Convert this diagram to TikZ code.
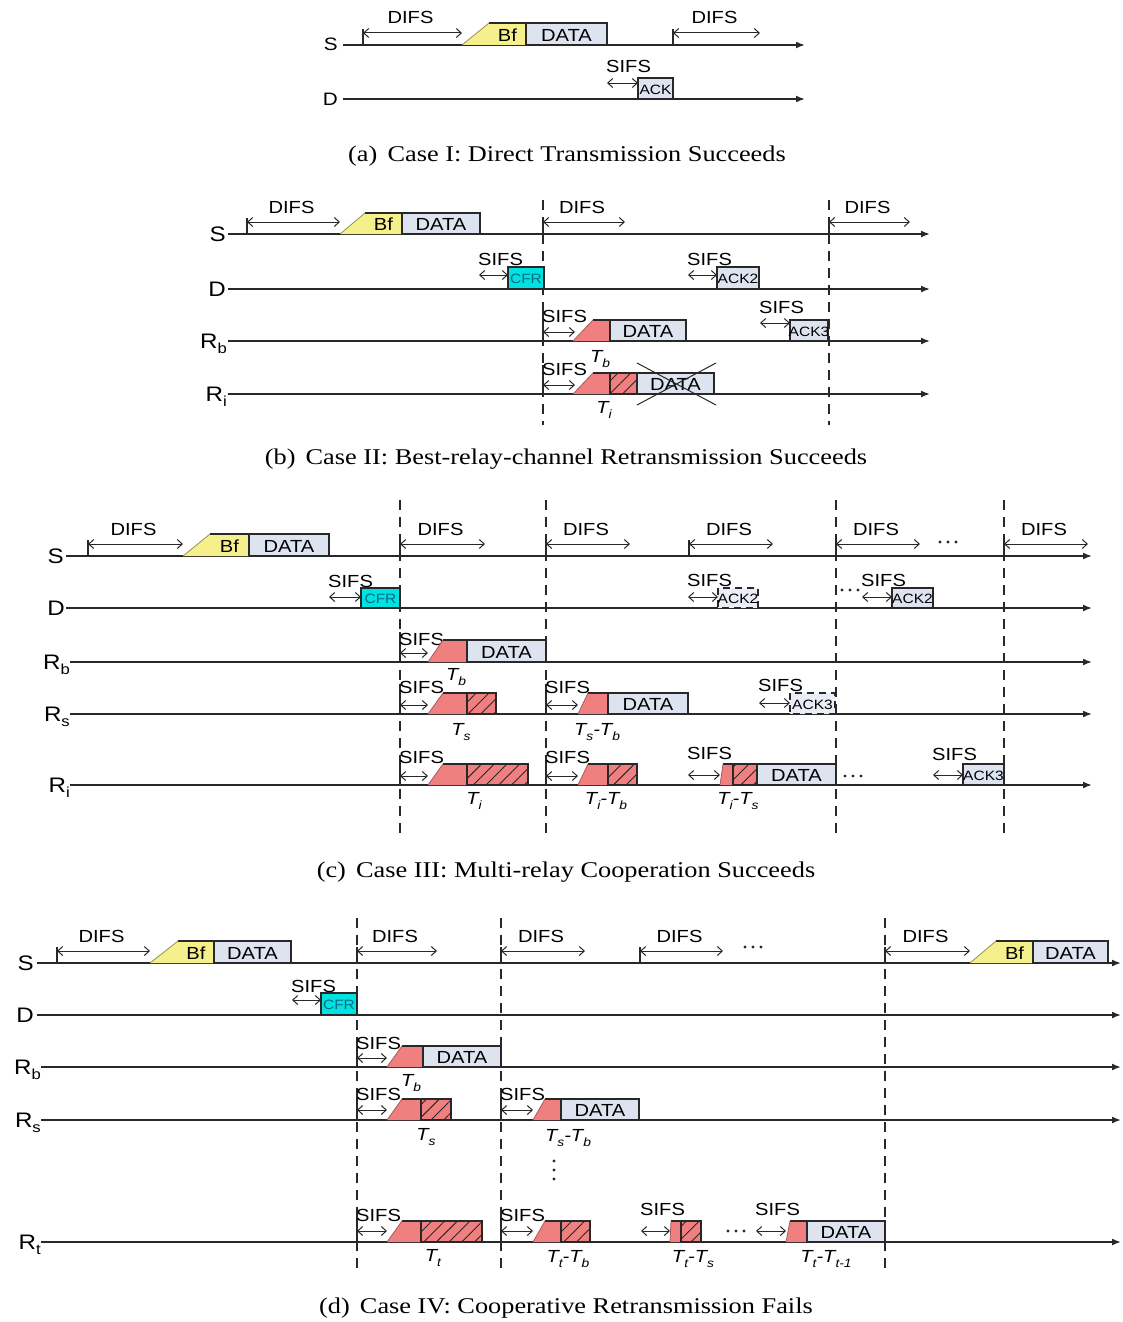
\documentclass[tikz,border=0pt]{standalone}
\usepackage{fontspec}
\setmainfont{Liberation Sans}[FakeStretch=1.15]
\newfontfamily\capfont{Liberation Serif}[FakeStretch=1.17]
\usetikzlibrary{arrows.meta,patterns.meta}
\definecolor{lc}{RGB}{40,40,40}
\definecolor{yel}{RGB}{246,240,140}
\definecolor{dat}{RGB}{222,227,240}
\definecolor{rd}{RGB}{240,128,128}
\definecolor{cy}{RGB}{0,225,225}
\definecolor{cft}{RGB}{0,110,130}
\newcounter{nid}
\tikzset{
 nm/.code={\stepcounter{nid}\pgfkeysalso{/tikz/name=n\arabic{nid}}},
 tline/.style={line width=1.7pt, draw=lc, -{Latex[length=9pt,width=7pt]}},
 vdash/.style={line width=1.4pt, draw=lc, dash pattern=on 10pt off 7pt},
 bx/.style={line width=1.1pt, draw=lc},
 dar/.style={line width=1pt, draw=lc, {Straight Barb[length=5pt,width=9pt]}-{Straight Barb[length=5pt,width=9pt]}},
 lbl/.style={nm, inner sep=0pt, font=\fontsize{17.5}{18}\selectfont},
 sml/.style={nm, inner sep=0pt, font=\fontsize{13.5}{14}\selectfont},
 row/.style={nm, inner sep=0pt, anchor=base east, font=\fontsize{21}{21}\selectfont},
 tlab/.style={nm, inner sep=0pt, font=\fontsize{17.5}{18}\selectfont\itshape},
 captext/.style={nm, inner sep=0pt, anchor=base, font=\capfont\fontsize{22.5}{24}\selectfont},
}
\newcommand\sbs[1]{\raisebox{-0.28em}{\fontsize{12}{12}\selectfont\itshape #1}}
\newcommand\rsb[1]{\raisebox{-0.25em}{\fontsize{14.5}{15}\selectfont #1}}
\newcommand\TL[3]{\draw[tline] (#2,#1) -- (#3,#1);}
\newcommand\VD[3]{\draw[vdash] (#1,#2) -- (#1,#3);}
\newcommand\TICK[3]{\draw[bx] (#1,#2) -- (#1,#3);}
\newcommand\DIFS[3]{\draw[bx] (#1,#3) -- (#1,#3-16);
 \draw[dar] (#1,#3-12) -- (#2,#3-12);
 \node[lbl,anchor=base] at ({(#1+#2)/2-2},#3-21) {DIFS};}
\newcommand\SIFS[4]{\draw[dar] (#1,#3) -- (#2,#3);
 \node[lbl,anchor=base west] at (#1-1,#4) {SIFS};}
\newcommand\BF[5]{\fill[yel] (#1,#5) -- (#2,#4) -- (#3,#4) -- (#3,#5) -- cycle;
 \draw[bx] (#2,#4) -- (#3,#4) -- (#3,#5);
 \draw[line width=0.8pt, yel!60!black] (#1,#5) -- (#2,#4);
 \node[lbl] at ({(#2+#3)/2},{(#4+#5)/2+1}) {Bf};}
\newcommand\PK[7]{\draw[bx,fill=#5] (#1,#3) rectangle (#2,#4);
 \node[#6] at ({(#1+#2)/2},{(#3+#4)/2+1}) {#7};}
\newcommand\DPK[5]{\fill[dat!60] (#1,#3) rectangle (#2,#4);
 \draw[bx,dash pattern=on 7pt off 5pt] (#1,#3) rectangle (#2,#4);
 \node[sml] at ({(#1+#2)/2},{(#3+#4)/2+1}) {#5};}
\newcommand\RT[5]{\fill[rd] (#1,#5) -- (#2,#4) -- (#3,#4) -- (#3,#5) -- cycle;
 \draw[bx] (#2,#4) -- (#3,#4) -- (#3,#5);
 \draw[line width=0.8pt, rd!70!black] (#1,#5) -- (#2,#4);}
\newcommand\HT[4]{\fill[rd] (#1,#3) rectangle (#2,#4);
 \fill[pattern={Lines[angle=45,distance=9pt,line width=0.9pt]}, pattern color=lc] (#1,#3) rectangle (#2,#4);
 \draw[bx] (#1,#3) rectangle (#2,#4);}
\newcommand\DOTS[2]{\foreach \k in {0,1,2}{\fill[lc] (#1+\k*8,#2) circle (1.7pt);}}
\begin{document}
\begin{tikzpicture}[x=1pt,y=-1pt]
\fill[white] (0,0) rectangle (1123,1322);
\useasboundingbox (0,0) rectangle (1123,1322);
%% ---------------- (a)
\node[row,font=\fontsize{18}{18}\selectfont] (aS) at (338,51) {S};
\node[row,font=\fontsize{18}{18}\selectfont] (aD) at (338,105) {D};
\TL{45}{343}{805}
\TL{99}{343}{805}
\DIFS{363}{462}{45}
\BF{462}{489}{526}{23}{45}
\PK{526}{607}{23}{45}{dat}{lbl}{DATA}
\DIFS{673}{760}{45}
\SIFS{607}{638}{83}{73}
\PK{638}{673}{78}{99}{dat}{sml}{ACK}
\node[captext] (capa) at (567,161) {(a)\hspace{0.45em}Case I: Direct Transmission Succeeds};
%% ---------------- (b)
\node[row] (bS) at (226,241) {S};
\node[row] (bD) at (226,296) {D};
\node[row] (bRb) at (227,348) {R\rsb{b}};
\node[row] (bRi) at (227,401) {R\rsb{i}};
\TL{234}{228}{930}
\TL{289}{228}{930}
\TL{341}{228}{930}
\TL{394}{228}{930}
\VD{543}{200}{425}
\VD{829}{200}{425}
\DIFS{247}{340}{234}
\BF{340}{365}{402}{213}{234}
\PK{402}{480}{213}{234}{dat}{lbl}{DATA}
\DIFS{543}{625}{234}
\DIFS{829}{910}{234}
\SIFS{479}{508}{275}{265}
\PK{508}{544}{267}{289}{cy}{sml,text=cft}{CFR}
\SIFS{688}{717}{275}{265}
\PK{717}{759}{267}{289}{dat}{sml}{ACK2}
\TICK{543}{341}{312}
\SIFS{543}{575}{332}{322}
\RT{573}{593}{610}{320}{341}
\PK{610}{686}{320}{341}{dat}{lbl}{DATA}
\node[tlab] at (600,359) {T\sbs{b}};
\SIFS{760}{790}{323}{313}
\PK{790}{828}{320}{341}{dat}{sml}{ACK3}
\TICK{543}{394}{365}
\SIFS{543}{575}{385}{375}
\RT{573}{593}{610}{373}{394}
\HT{610}{637}{373}{394}
\PK{637}{714}{373}{394}{dat}{lbl}{DATA}
\draw[line width=1pt, lc] (637,363) -- (716,405);
\draw[line width=1pt, lc] (637,405) -- (716,363);
\node[tlab] at (604,410) {T\sbs{i}};
\node[captext] (capb) at (566,464) {(b)\hspace{0.45em}Case II: Best-relay-channel Retransmission Succeeds};
%% ---------------- (c)
\node[row] (cS) at (64,563) {S};
\node[row] (cD) at (65,615) {D};
\node[row] (cRb) at (70,669) {R\rsb{b}};
\node[row] (cRs) at (70,721) {R\rsb{s}};
\node[row] (cRi) at (70,792) {R\rsb{i}};
\TL{556}{66}{1092}
\TL{608}{66}{1092}
\TL{662}{70}{1092}
\TL{714}{70}{1092}
\TL{785}{70}{1092}
\VD{400}{500}{838}
\VD{546}{500}{838}
\VD{836}{500}{838}
\VD{1004}{500}{838}
\DIFS{88}{183}{556}
\BF{183}{210}{249}{534}{556}
\PK{249}{329}{534}{556}{dat}{lbl}{DATA}
\DIFS{400}{485}{556}
\DIFS{546}{630}{556}
\DIFS{689}{773}{556}
\DIFS{836}{920}{556}
\DOTS{940}{542}
\DIFS{1004}{1088}{556}
\SIFS{329}{361}{597}{587}
\PK{361}{400}{588}{608}{cy}{sml,text=cft}{CFR}
\SIFS{688}{718}{597}{586}
\DPK{718}{758}{588}{608}{ACK2}
\DOTS{842}{590}
\SIFS{862}{892}{597}{586}
\PK{892}{933}{588}{608}{dat}{sml}{ACK2}
\TICK{400}{662}{632}
\SIFS{400}{428}{653}{645}
\RT{428}{443}{467}{640}{662}
\PK{467}{546}{640}{662}{dat}{lbl}{DATA}
\node[tlab] at (456,677) {T\sbs{b}};
\TICK{400}{714}{684}
\SIFS{400}{428}{705}{693}
\RT{428}{443}{467}{693}{714}
\HT{467}{496}{693}{714}
\node[tlab] at (461,732) {T\sbs{s}};
\TICK{546}{714}{684}
\SIFS{546}{578}{705}{693}
\RT{578}{588}{608}{693}{714}
\PK{608}{688}{693}{714}{dat}{lbl}{DATA}
\node[tlab] at (597,732) {T\sbs{s}-T\sbs{b}};
\SIFS{759}{790}{703}{691}
\DPK{790}{835}{693}{714}{ACK3}
\TICK{400}{785}{755}
\SIFS{400}{428}{776}{763}
\RT{428}{443}{467}{764}{785}
\HT{467}{528}{764}{785}
\node[tlab] at (474,801) {T\sbs{i}};
\TICK{546}{785}{755}
\SIFS{546}{578}{776}{763}
\RT{578}{588}{608}{764}{785}
\HT{608}{637}{764}{785}
\node[tlab] at (606,801) {T\sbs{i}-T\sbs{b}};
\SIFS{688}{720}{775}{759}
\RT{720}{723}{733}{764}{785}
\HT{733}{757}{764}{785}
\PK{757}{836}{764}{785}{dat}{lbl}{DATA}
\DOTS{845}{776}
\node[tlab] at (738,801) {T\sbs{i}-T\sbs{s}};
\SIFS{933}{963}{775}{760}
\PK{963}{1004}{764}{785}{dat}{sml}{ACK3}
\node[captext] (capc) at (566,877) {(c)\hspace{0.45em}Case III: Multi-relay Cooperation Succeeds};
%% ---------------- (d)
\node[row] (dS) at (34,970) {S};
\node[row] (dD) at (34,1022) {D};
\node[row] (dRb) at (41,1074) {R\rsb{b}};
\node[row] (dRs) at (41,1127) {R\rsb{s}};
\node[row] (dRt) at (41,1249) {R\rsb{t}};
\TL{963}{37}{1121}
\TL{1015}{37}{1121}
\TL{1067}{41}{1121}
\TL{1120}{41}{1121}
\TL{1242}{41}{1121}
\VD{357}{918}{1268}
\VD{501}{918}{1268}
\VD{885}{918}{1268}
\DIFS{57}{150}{963}
\BF{150}{178}{214}{941}{963}
\PK{214}{291}{941}{963}{dat}{lbl}{DATA}
\DIFS{357}{437}{963}
\DIFS{501}{585}{963}
\DIFS{640}{723}{963}
\DOTS{745}{947}
\DIFS{885}{970}{963}
\BF{970}{996}{1033}{941}{963}
\PK{1033}{1108}{941}{963}{dat}{lbl}{DATA}
\SIFS{292}{321}{1000}{992}
\PK{321}{357}{993}{1015}{cy}{sml,text=cft}{CFR}
\TICK{357}{1067}{1037}
\SIFS{357}{387}{1058}{1049}
\RT{387}{402}{423}{1046}{1067}
\PK{423}{501}{1046}{1067}{dat}{lbl}{DATA}
\node[tlab] at (411,1083) {T\sbs{b}};
\TICK{357}{1120}{1090}
\SIFS{357}{387}{1110}{1100}
\RT{387}{402}{421}{1099}{1120}
\HT{421}{451}{1099}{1120}
\node[tlab] at (426,1137) {T\sbs{s}};
\TICK{501}{1120}{1090}
\SIFS{501}{533}{1110}{1100}
\RT{533}{545}{561}{1099}{1120}
\PK{561}{639}{1099}{1120}{dat}{lbl}{DATA}
\node[tlab] at (568,1138) {T\sbs{s}-T\sbs{b}};
\foreach \k in {0,1,2}{\fill[lc] (554,1161+\k*9) circle (1.7pt);}
\TICK{357}{1242}{1212}
\SIFS{357}{387}{1231}{1221}
\RT{387}{402}{421}{1221}{1242}
\HT{421}{482}{1221}{1242}
\node[tlab] at (433,1258) {T\sbs{t}};
\TICK{501}{1242}{1212}
\SIFS{501}{533}{1231}{1221}
\RT{533}{545}{561}{1221}{1242}
\HT{561}{590}{1221}{1242}
\node[tlab] at (568,1259) {T\sbs{t}-T\sbs{b}};
\SIFS{641}{670}{1231}{1215}
\RT{670}{671}{681}{1221}{1242}
\HT{681}{701}{1221}{1242}
\node[tlab] at (693,1259) {T\sbs{t}-T\sbs{s}};
\DOTS{728}{1231}
\SIFS{756}{786}{1231}{1215}
\RT{786}{790}{807}{1221}{1242}
\PK{807}{885}{1221}{1242}{dat}{lbl}{DATA}
\node[tlab] at (826,1259) {T\sbs{t}-T\sbs{t-1}};
\node[captext] (capd) at (566,1313) {(d)\hspace{0.45em}Case IV: Cooperative Retransmission Fails};
\end{tikzpicture}
\end{document}
